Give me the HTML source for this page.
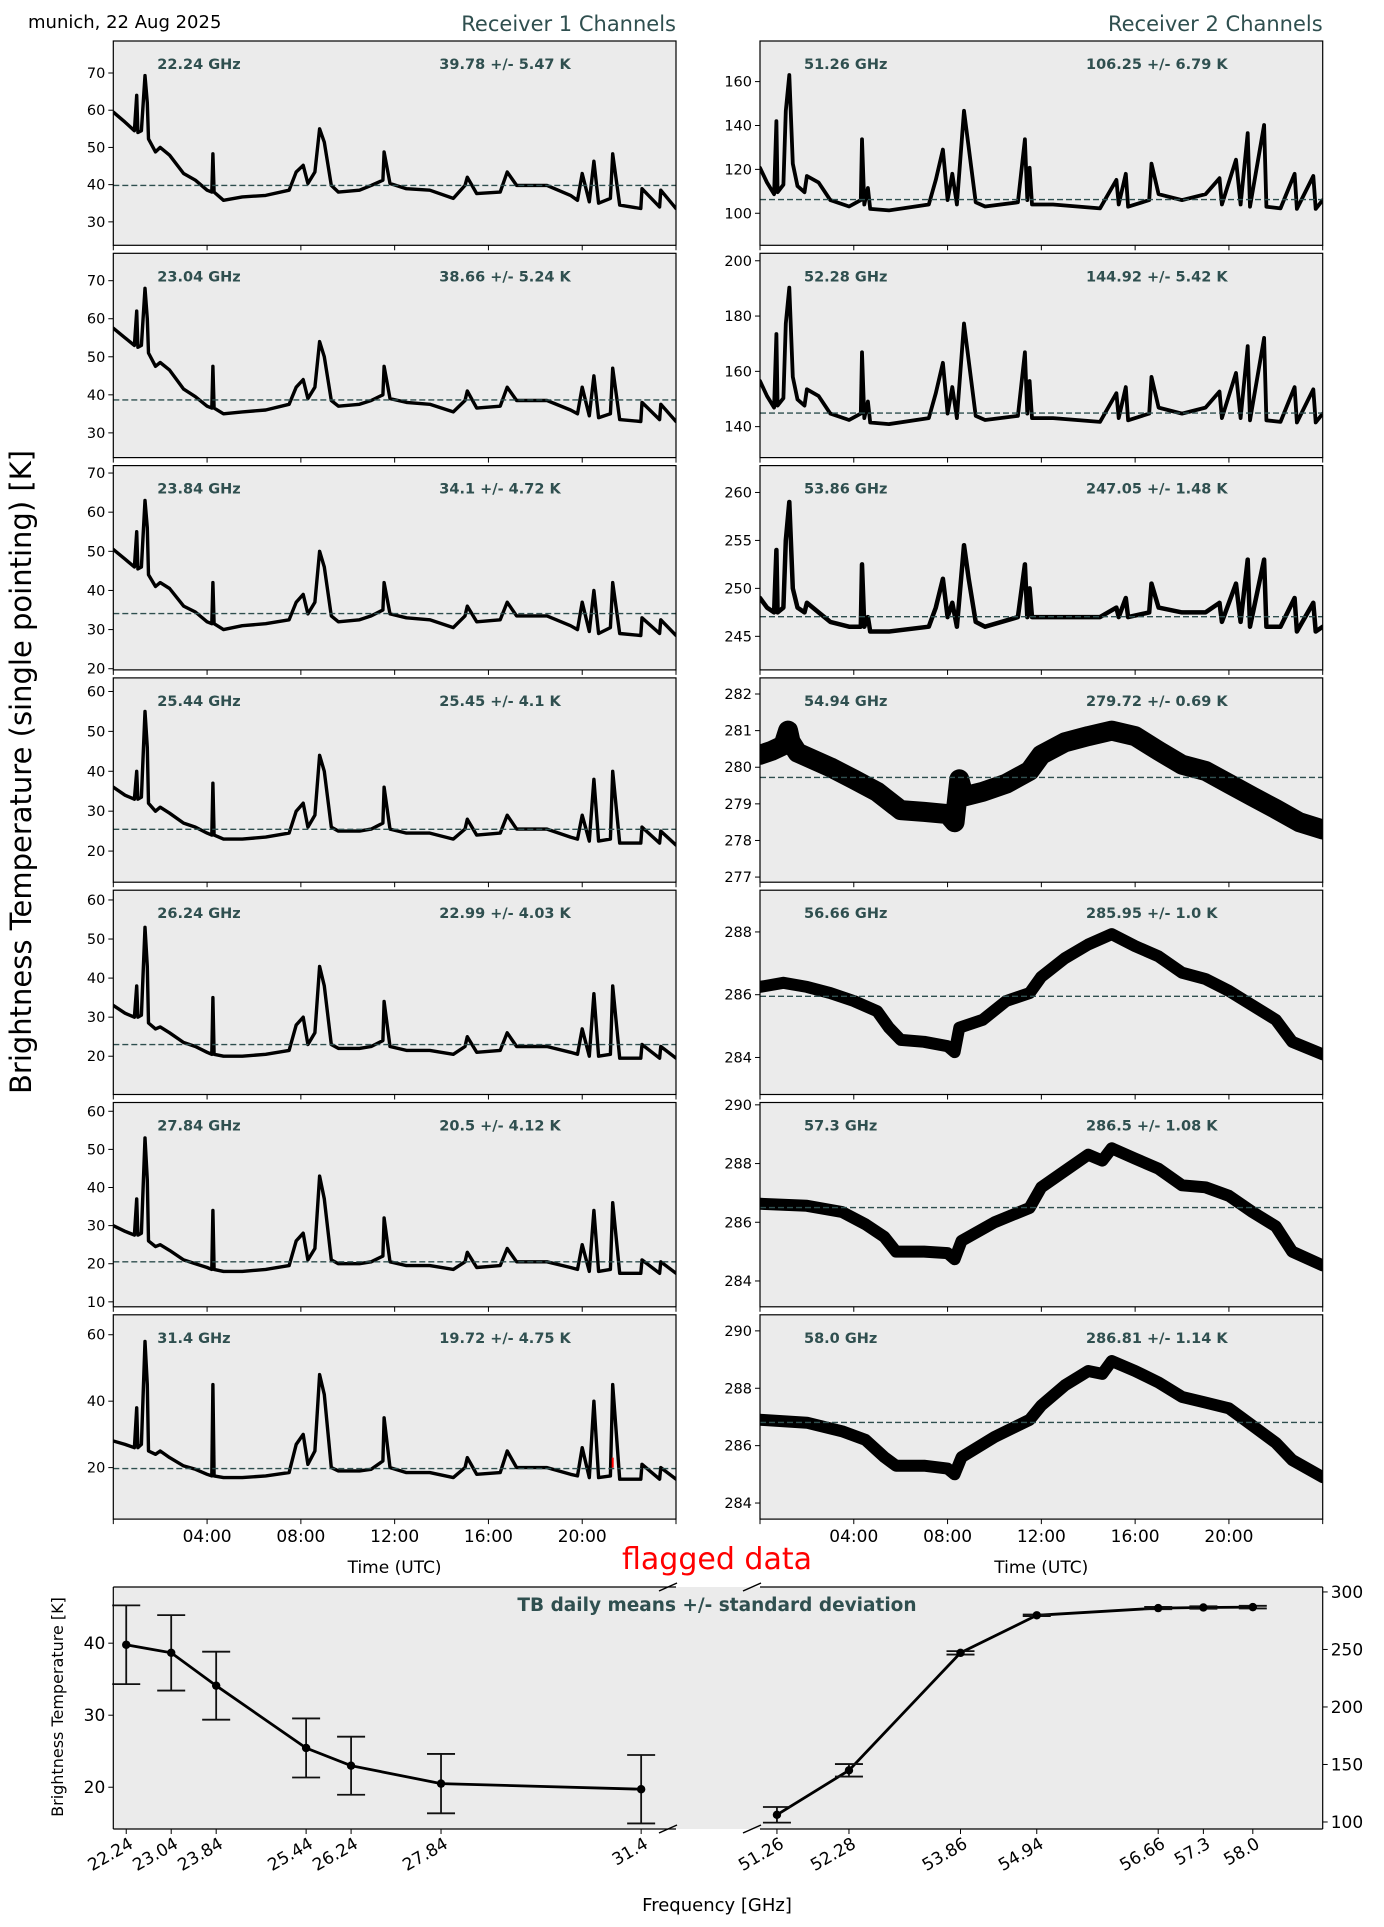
<!DOCTYPE html>
<html><head><meta charset="utf-8">
<style>
html,body{margin:0;padding:0;background:#fff;}
svg{display:block;font-family:"DejaVu Sans","Liberation Sans",sans-serif;}
</style></head>
<body>
<svg id="fig" width="1384" height="1927" viewBox="0 0 1384 1927" xmlns="http://www.w3.org/2000/svg">
<text x="28" y="28" font-size="18" fill="#000">munich, 22 Aug 2025</text>
<text x="676" y="31" font-size="21" fill="#2F4F4F" text-anchor="end">Receiver 1 Channels</text>
<text x="1322.7" y="31" font-size="21" fill="#2F4F4F" text-anchor="end">Receiver 2 Channels</text>
<text x="0" y="0" font-size="29" fill="#000" text-anchor="middle" transform="translate(31,772) rotate(-90)">Brightness Temperature (single pointing) [K]</text>
<text x="394.6" y="1573" font-size="17" text-anchor="middle">Time (UTC)</text>
<text x="1041.3" y="1573" font-size="17" text-anchor="middle">Time (UTC)</text>
<text x="717" y="1569" font-size="30" fill="#ff0000" text-anchor="middle">flagged data</text>
<g id="panels"></g>
<g id="summary"></g>
</svg>
<script>
// ---- time series data ----
const hoursL = [0,0.5,0.9,1.0,1.05,1.2,1.35,1.45,1.5,1.8,2.0,2.4,3.0,3.5,4.0,4.2,4.25,4.3,4.7,5.5,6.5,7.5,7.8,8.1,8.3,8.6,8.8,9.0,9.3,9.6,10.5,11.0,11.5,11.55,11.8,12.5,13.5,14.5,15.0,15.1,15.5,16.5,16.8,17.2,18.5,19.5,19.8,20.0,20.3,20.5,20.7,21.2,21.3,21.6,22.5,22.55,23.3,23.35,24];
const tb2224 = [59.5,56.8,54.5,64,54,54.5,69.3,62,52.3,48.8,50,47.9,43,41.2,38.5,38,48.3,38,35.8,36.7,37.1,38.5,43.4,45.2,40.3,43.4,55,51.4,39.8,38,38.5,39.8,41.2,48.8,40.3,38.9,38.5,36.3,39.8,42,37.6,38,43.4,39.8,39.8,37.1,35.8,43,35.4,46.3,35,36.3,48.3,34.5,33.6,38.9,34,38.5,33.6];
const tb2304 = [57.5,55,53,62,52.5,53,68,60,51,47.5,48.5,46.5,41.5,39.5,37,36.5,47.5,36.5,35,35.5,36,37.5,42,44,39,42,54,50,38.5,37,37.5,38.5,40,47.5,39,38,37.5,35.5,38.5,41,36.5,37,42,38.5,38.5,36,35,42,34.5,45,34,35,47,33.5,33,38,33.5,37.5,33];
const tb2384 = [50.5,48,46,55,45.5,46,63,56,44,41,42,40.5,36,34.5,32,31.5,42,31.5,30,31,31.5,32.5,37,39,34,37,50,46,33.5,32,32.5,33.5,35,42,34,33,32.5,30.5,33.5,36,32,32.5,37,33.5,33.5,31,30,37,29.5,40,29,30.5,42,29,28.5,33,29,32.5,28.5];
const tb2544 = [36,34,33,40,33,33.5,55,46,32,30,31,29.5,27,26,24.5,24,37,24,23,23,23.5,24.5,30,32,26,29,44,40,26,25,25,25.5,27,36,25.5,24.5,24.5,23,25.5,28,24,24.5,29,25.5,25.5,23.5,23,29,22.5,38,22.5,23,40,22,22,26,22,25,21.5];
const tb2624 = [33,31,30,38,30,30.5,53,43,28.5,27,27.5,26,23.5,22.5,21,20.5,35,20.5,20,20,20.5,21.5,28,30,23,26,43,38,23,22,22,22.5,24,34,22.5,21.5,21.5,20.5,22.5,25,21,21.5,26,22.5,22.5,21,20.5,27,20,36,20,20.5,38,19.5,19.5,23,19.5,22.5,19.5];
const tb2784 = [30,28.5,27.5,37,27.5,28,53,42,26,24.5,25,23.5,21,20,19,18.5,34,18.5,18,18,18.5,19.5,26,28,21,24,43,37,21,20,20,20.5,22,32,20.5,19.5,19.5,18.5,20.5,23,19,19.5,24,20.5,20.5,19,18.5,25,18,34,18,18.5,36,17.5,17.5,21,17.5,20.5,17.5];
const tb3140 = [28,27,26,38,26,27,58,45,25,24,25,23,20.5,19.5,18,17.5,45,17.5,17,17,17.5,18.5,27,30,21,25,48,42,20,19,19,19.5,22,35,20,18.5,18.5,17,20,23,18,18.5,25,20,20,18,17.5,26,17,40,17,17.5,45,16.5,16.5,21,16.5,20,16.5];

const hoursR = [0,0.3,0.6,0.7,0.75,1.0,1.1,1.25,1.4,1.6,1.9,2.0,2.5,3.0,3.8,4.3,4.35,4.45,4.6,4.7,5.5,7.2,7.5,7.8,8.0,8.2,8.4,8.7,8.9,9.2,9.6,11.0,11.3,11.4,11.5,11.6,12.5,14.5,15.2,15.3,15.6,15.7,16.6,16.7,17.0,18.0,19.0,19.6,19.7,20.3,20.5,20.8,20.9,21.5,21.6,22.2,22.8,22.9,23.6,23.7,24];
const tb5126 = [120.7,114,108.7,142,109.6,113,146.7,163,122.6,112.4,109.6,117,114,106,103.1,106,133.7,104,111.5,102,101.3,104,115.2,129,106,118,104,146.7,130,105,103.1,105,133.7,106,120.7,104,104,102.2,115.2,104,118,103,106,122.6,108.7,106,108.7,116,104,124.4,104,136.5,103,140.2,103,102.2,118,102,117,102,106];
const tb5228 = [156.5,151.1,146.9,173.5,147.6,150.3,177.3,190.3,158,149.8,147.6,153.5,151.1,144.7,142.4,144.7,166.9,143.1,149.1,141.5,140.9,143.1,152.1,163.1,144.7,154.3,143.1,177.3,163.9,143.9,142.4,143.9,166.9,144.7,156.5,143.1,143.1,141.7,152.1,143.1,154.3,142.3,144.7,158,146.9,144.7,146.9,152.7,143.1,159.4,143.1,169.1,142.3,172.1,142.3,141.7,154.3,141.5,153.5,141.5,144.7];
const tb5386 = [249,248,247.5,254,247.5,248,255,259,250,248,247.5,248.5,247.5,246.5,246,246,252.5,246,247,245.5,245.5,246,248,251,247,248.5,246,254.5,251,246.5,246,247,252.5,247,250,247,247,247,248,247,249,247,247.5,250.5,248,247.5,247.5,248.5,246.5,250.5,246.5,253,246,253,246,246,249,245.5,248.5,245.5,246];

const hours5494 = [0,0.5,1.0,1.2,1.3,1.6,3.0,4.0,5.0,6.0,7.0,8.0,8.3,8.5,8.7,9.5,10.5,11.5,12.0,13.0,14.0,15.0,16.0,17.0,18.0,19.0,20.0,21.0,22.0,23.0,24];
const tb5494 = [280.34,280.45,280.6,281.0,280.7,280.4,280.0,279.67,279.33,278.83,278.78,278.72,278.5,279.67,279.2,279.33,279.55,279.9,280.34,280.68,280.85,281.0,280.85,280.45,280.07,279.9,279.55,279.2,278.86,278.5,278.3];
const hours5666 = [0,1,2,3,4,5,5.5,6,7,8,8.3,8.5,9.5,10.5,11.5,12,13,14,15,16,17,18,19,20,21,22,22.7,24];
const tb5666 = [286.25,286.38,286.25,286.05,285.8,285.47,284.95,284.56,284.5,284.36,284.17,284.95,285.2,285.8,286.05,286.57,287.16,287.6,287.93,287.55,287.22,286.7,286.5,286.12,285.66,285.2,284.5,284.1];
const hours5730 = [0,2,3.5,4.5,5.3,5.8,7,8,8.3,8.6,10,11.5,12,13,14,14.6,15,16,17,18,19,20,21,22,22.7,24];
const tb5730 = [286.63,286.56,286.35,285.93,285.5,285.0,285.0,284.95,284.74,285.37,286.0,286.49,287.19,287.75,288.3,288.1,288.52,288.17,287.82,287.26,287.19,286.9,286.35,285.86,285.0,284.53];
const tb5800 = [286.9,286.8,286.5,286.2,285.6,285.3,285.3,285.2,285.0,285.6,286.3,286.9,287.4,288.1,288.6,288.5,288.95,288.6,288.2,287.7,287.5,287.3,286.7,286.1,285.5,284.9];

// ---- channel summary data ----
const freqsR1 = [22.24,23.04,23.84,25.44,26.24,27.84,31.4];
const meansR1 = [39.78,38.66,34.1,25.45,22.99,20.5,19.72];
const stdsR1  = [5.47,5.24,4.72,4.1,4.03,4.12,4.75];
const freqsR2 = [51.26,52.28,53.86,54.94,56.66,57.3,58.0];
const meansR2 = [106.25,144.92,247.05,279.72,285.95,286.5,286.81];
const stdsR2  = [6.79,5.42,1.48,0.69,1.0,1.08,1.14];
const freqLabelsR1 = ["22.24","23.04","23.84","25.44","26.24","27.84","31.4"];
const freqLabelsR2 = ["51.26","52.28","53.86","54.94","56.66","57.3","58.0"];
const timeTicks = [0,4,8,12,16,20,24];
const timeTickLabels = ["","04:00","08:00","12:00","16:00","20:00",""];
const leftTicksBottom = [20,30,40];
const rightTicksBottom = [100,150,200,250,300];

const NS = "http://www.w3.org/2000/svg";
function mk(tag, attrs, parent){
  const e = document.createElementNS(NS, tag);
  for (const k in attrs) e.setAttribute(k, attrs[k]);
  parent.appendChild(e);
  return e;
}
function fmt1(v){ return (Math.round(v*100)/100).toString().indexOf('.')<0 ? v.toFixed(1) : String(Math.round(v*100)/100); }
const DSG = "#2F4F4F";
const panelsG = document.getElementById('panels');

const PW = 562.7, PH = 204.3, GAP = 8.0, TOP = 41;
const XL = 113.3, XR = 760;

const channels = [
  {col:0,row:0,h:hoursL,v:tb2224,yr:[23.7,78.6],t:[30,40,50,60,70],f:"22.24 GHz",m:39.78,s:5.47,sw:3.4},
  {col:0,row:1,h:hoursL,v:tb2304,yr:[23.5,77.2],t:[30,40,50,60,70],f:"23.04 GHz",m:38.66,s:5.24,sw:3.4},
  {col:0,row:2,h:hoursL,v:tb2384,yr:[19.7,71.9],t:[20,30,40,50,60,70],f:"23.84 GHz",m:34.1,s:4.72,sw:3.4},
  {col:0,row:3,h:hoursL,v:tb2544,yr:[12.2,63.4],t:[20,30,40,50,60],f:"25.44 GHz",m:25.45,s:4.1,sw:3.4},
  {col:0,row:4,h:hoursL,v:tb2624,yr:[10.2,62.5],t:[20,30,40,50,60],f:"26.24 GHz",m:22.99,s:4.03,sw:3.4},
  {col:0,row:5,h:hoursL,v:tb2784,yr:[8.7,62.3],t:[10,20,30,40,50,60],f:"27.84 GHz",m:20.5,s:4.12,sw:3.4},
  {col:0,row:6,h:hoursL,v:tb3140,yr:[4.5,66],t:[20,40,60],f:"31.4 GHz",m:19.72,s:4.75,sw:3.4},
  {col:1,row:0,h:hoursR,v:tb5126,yr:[85.4,178.5],t:[100,120,140,160],f:"51.26 GHz",m:106.25,s:6.79,sw:3.8},
  {col:1,row:1,h:hoursR,v:tb5228,yr:[128.8,202.7],t:[140,160,180,200],f:"52.28 GHz",m:144.92,s:5.42,sw:3.8},
  {col:1,row:2,h:hoursR,v:tb5386,yr:[241.5,262.8],t:[245,250,255,260],f:"53.86 GHz",m:247.05,s:1.48,sw:4.5},
  {col:1,row:3,h:hours5494,v:tb5494,yr:[276.86,282.44],t:[277,278,279,280,281,282],f:"54.94 GHz",m:279.72,s:0.69,sw:20},
  {col:1,row:4,h:hours5666,v:tb5666,yr:[282.82,289.33],t:[284,286,288],f:"56.66 GHz",m:285.95,s:1.0,sw:12},
  {col:1,row:5,h:hours5730,v:tb5730,yr:[283.12,290.08],t:[284,286,288,290],f:"57.3 GHz",m:286.5,s:1.08,sw:12},
  {col:1,row:6,h:hours5730,v:tb5800,yr:[283.44,290.56],t:[284,286,288,290],f:"58.0 GHz",m:286.81,s:1.14,sw:12}
];

channels.forEach(function(c){
  const x0 = c.col===0 ? XL : XR;
  const y0 = TOP + c.row*(PH+GAP);
  const xs = function(hr){ return x0 + hr/24*PW; };
  const ys = function(v){ return y0 + (c.yr[1]-v)/(c.yr[1]-c.yr[0])*PH; };
  const g = mk('g', {}, panelsG);
  
  
  const bg = mk('rect', {x:x0, y:y0, width:PW, height:PH, fill:'#EBEBEB'}, g);
  
  
  const cp = 'clip' + c.col + c.row;
  const cl = mk('clipPath', {id:cp}, g);
  mk('rect', {x:x0, y:y0, width:PW, height:PH}, cl);
  let d = '';
  for (let i=0;i<c.h.length;i++){ d += (i?'L':'M') + xs(c.h[i]).toFixed(1) + ',' + ys(c.v[i]).toFixed(1); }
  const ln = mk('path', {d:d, fill:'none', stroke:'#000', 'stroke-width':c.sw, 'stroke-linejoin':'round', 'stroke-linecap':'round', 'clip-path':'url(#'+cp+')'}, g);
  
  
  const ml = mk('line', {x1:x0, x2:x0+PW, y1:ys(c.m), y2:ys(c.m), stroke:DSG, 'stroke-width':1.4, 'stroke-dasharray':'6,3'}, g);
  
  
  const fr = mk('rect', {x:x0, y:y0, width:PW, height:PH, fill:'none', stroke:'#000', 'stroke-width':1.2}, g);
  
  
  c.t.forEach(function(t){
    const yy = ys(t);
    mk('line', {x1:x0-5, x2:x0, y1:yy, y2:yy, stroke:'#000', 'stroke-width':1}, g);
    const tl = mk('text', {x:x0-8, y:yy+5, 'font-size':14.5, 'text-anchor':'end', fill:'#000'}, g);
    tl.textContent = String(t);
    
    
  });
  timeTicks.forEach(function(h, i){
    const xx = xs(h);
    mk('line', {x1:xx, x2:xx, y1:y0+PH, y2:y0+PH+5, stroke:'#000', 'stroke-width':1}, g);
    if (c.row===6 && timeTickLabels[i]){
      const tl = mk('text', {x:xx, y:y0+PH+23, 'font-size':17, 'text-anchor':'middle', fill:'#000'}, g);
      tl.textContent = timeTickLabels[i];
      
      
    }
  });
  const fl = mk('text', {x:x0+44, y:y0+28, 'font-size':14.5, 'font-weight':'bold', fill:DSG}, g);
  fl.textContent = c.f;
  
  
  const sl = mk('text', {x:x0+326, y:y0+28, 'font-size':14.5, 'font-weight':'bold', fill:DSG}, g);
  const sTxt = (Math.round(c.s*100)/100 === Math.round(c.s)) ? c.s.toFixed(1) : String(c.s);
  const mTxt = (Math.round(c.m*100)/100 === Math.round(c.m)) ? c.m.toFixed(1) : String(c.m);
  sl.textContent = mTxt + ' +/- ' + sTxt + ' K';
  
  
  if (c.f === "31.4 GHz"){
    const fm = mk('line', {x1:xs(21.3), x2:xs(21.3), y1:ys(23), y2:ys(20), stroke:'#ff0000', 'stroke-width':2}, g);
    
    
  }
});

// ---- summary (bottom) panel ----
const sg = document.getElementById('summary');
const BT = 1587, BB = 1829;
const domL = [22.01, 32.02], domR = [51.02, 58.99];
const yDomL = [14.2, 47.8], yDomR = [93.9, 304.3];
const GAPX0 = 676, GAPX1 = 760;
const bxL = function(f){ return XL + (f-domL[0])/(domL[1]-domL[0])*(GAPX0-XL); };
const bxR = function(f){ return GAPX1 + (f-domR[0])/(domR[1]-domR[0])*(XR+PW-GAPX1); };
const byL = function(v){ return BT + (yDomL[1]-v)/(yDomL[1]-yDomL[0])*(BB-BT); };
const byR = function(v){ return BT + (yDomR[1]-v)/(yDomR[1]-yDomR[0])*(BB-BT); };

const sbg = mk('rect', {x:XL, y:BT, width:XR+PW-XL, height:BB-BT, fill:'#EBEBEB'}, sg);



function drawSeries(fr, mr, sr, labels, bx, by, nm){
  const g = mk('g', {}, sg);
  
  
  let d='';
  fr.forEach(function(f,i){ d += (i?'L':'M') + bx(f).toFixed(1) + ',' + by(mr[i]).toFixed(1); });
  mk('path', {d:d, fill:'none', stroke:'#000', 'stroke-width':2.8}, g);
  fr.forEach(function(f,i){
    const x = bx(f), yt = by(mr[i]+sr[i]), yb = by(mr[i]-sr[i]);
    const eb = mk('g', {}, g);
    
    
    mk('line', {x1:x, x2:x, y1:yt, y2:yb, stroke:'#111', 'stroke-width':1.8}, eb);
    mk('line', {x1:x-14, x2:x+14, y1:yt, y2:yt, stroke:'#111', 'stroke-width':1.8}, eb);
    mk('line', {x1:x-14, x2:x+14, y1:yb, y2:yb, stroke:'#111', 'stroke-width':1.8}, eb);
    const pt = mk('circle', {cx:x, cy:by(mr[i]), r:4.2, fill:'#000'}, g);
    
    
    mk('line', {x1:x, x2:x, y1:BB, y2:BB+5, stroke:'#000', 'stroke-width':1}, sg);
    const tl = mk('text', {x:0, y:0, 'font-size':17, 'text-anchor':'end', fill:'#000', transform:'translate('+(x+8)+','+(BB+18)+') rotate(-30)'}, sg);
    tl.textContent = labels[i];
    
    
  });
}
drawSeries(freqsR1, meansR1, stdsR1, freqLabelsR1, bxL, byL, 'receiver1-means-series');
drawSeries(freqsR2, meansR2, stdsR2, freqLabelsR2, bxR, byR, 'receiver2-means-series');

mk('line', {x1:XL, x2:XL, y1:BT, y2:BB, stroke:'#000', 'stroke-width':1.2}, sg);
mk('line', {x1:XR+PW, x2:XR+PW, y1:BT, y2:BB, stroke:'#000', 'stroke-width':1.2}, sg);
mk('line', {x1:XL, x2:GAPX0, y1:BT, y2:BT, stroke:'#000', 'stroke-width':1.2}, sg);
mk('line', {x1:XL, x2:GAPX0, y1:BB, y2:BB, stroke:'#000', 'stroke-width':1.2}, sg);
mk('line', {x1:GAPX1, x2:XR+PW, y1:BT, y2:BT, stroke:'#000', 'stroke-width':1.2}, sg);
mk('line', {x1:GAPX1, x2:XR+PW, y1:BB, y2:BB, stroke:'#000', 'stroke-width':1.2}, sg);
[GAPX0-8, GAPX1-8].forEach(function(x){
  [BT, BB].forEach(function(y){
    const br = mk('line', {x1:x-9, x2:x+9, y1:y+4, y2:y-4, stroke:'#000', 'stroke-width':1.5}, sg);
    
    
  });
});
leftTicksBottom.forEach(function(t){
  const y = byL(t);
  mk('line', {x1:XL-5, x2:XL, y1:y, y2:y, stroke:'#000', 'stroke-width':1}, sg);
  const tl = mk('text', {x:XL-8, y:y+6, 'font-size':17, 'text-anchor':'end'}, sg);
  tl.textContent = String(t);
  
  
});
rightTicksBottom.forEach(function(t){
  const y = byR(t);
  mk('line', {x1:XR+PW, x2:XR+PW+5, y1:y, y2:y, stroke:'#000', 'stroke-width':1}, sg);
  const tl = mk('text', {x:XR+PW+8, y:y+6, 'font-size':17, 'text-anchor':'start'}, sg);
  tl.textContent = String(t);
  
  
});
const st = mk('text', {x:717, y:1611, 'font-size':18.5, 'font-weight':'bold', fill:DSG, 'text-anchor':'middle'}, sg);
st.textContent = 'TB daily means +/- standard deviation';


const yl = mk('text', {x:0, y:0, 'font-size':16, 'text-anchor':'middle', transform:'translate(63,1707) rotate(-90)'}, sg);
yl.textContent = 'Brightness Temperature [K]';


const xl = mk('text', {x:717, y:1911, 'font-size':18, 'text-anchor':'middle'}, sg);
xl.textContent = 'Frequency [GHz]';


</script>
</body></html>
